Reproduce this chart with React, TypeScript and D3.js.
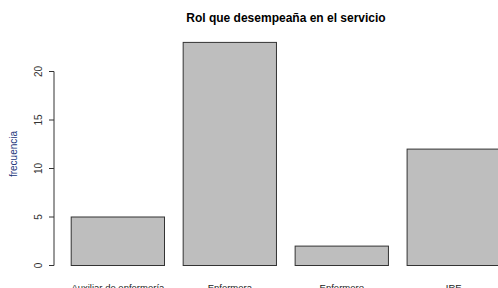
import React from "react";
import * as d3 from "d3";

const categories = ["Auxiliar de enfermería", "Enfermera", "Enfermero", "IRE"];
const frecuencias = [5, 23, 2, 12];
const yTicks = [0, 5, 10, 15, 20];

const W = 498;
const H = 288;
const font = "'Liberation Sans', Arial, sans-serif";

const App: React.FC = () => {
  // plot region as R would lay it out
  const x = d3
    .scaleBand<string>()
    .domain(categories)
    .range([54, 517.6])
    .paddingInner(1 / 6)
    .paddingOuter(0.1536);

  const y = d3.scaleLinear().domain([0, 20]).range([265.5, 71.5]);

  return (
    <svg
      width={W}
      height={H}
      style={{ position: "absolute", left: 0, top: 0, background: "#fff" }}
      fontFamily={font}
    >
      <text x={286} y={22} textAnchor="middle" fontSize={12} fontWeight="bold" fill="#000">
        Rol que desempeaña en el servicio
      </text>

      {categories.map((c, i) => (
        <rect
          key={c}
          x={x(c)}
          y={y(frecuencias[i])}
          width={x.bandwidth()}
          height={y(0) - y(frecuencias[i])}
          fill="#bebebe"
          stroke="#333"
          strokeWidth={1}
        />
      ))}

      {/* y axis */}
      <line x1={54} x2={54} y1={y(20)} y2={y(0)} stroke="#333" />
      {yTicks.map((t) => (
        <g key={t}>
          <line x1={49} x2={54} y1={y(t)} y2={y(t)} stroke="#333" />
          <text
            transform={`translate(41.5,${y(t)}) rotate(-90)`}
            textAnchor="middle"
            fontSize={10}
            fill="#333"
          >
            {t}
          </text>
        </g>
      ))}

      <text
        transform="translate(17,154) rotate(-90)"
        textAnchor="middle"
        fontSize={10}
        fill="#22357a"
      >
        frecuencia
      </text>

      {categories.map((c) => (
        <text
          key={c}
          x={(x(c) ?? 0) + x.bandwidth() / 2}
          y={291}
          textAnchor="middle"
          fontSize={9.5}
          fill="#222"
        >
          {c}
        </text>
      ))}
    </svg>
  );
};

export default App;
